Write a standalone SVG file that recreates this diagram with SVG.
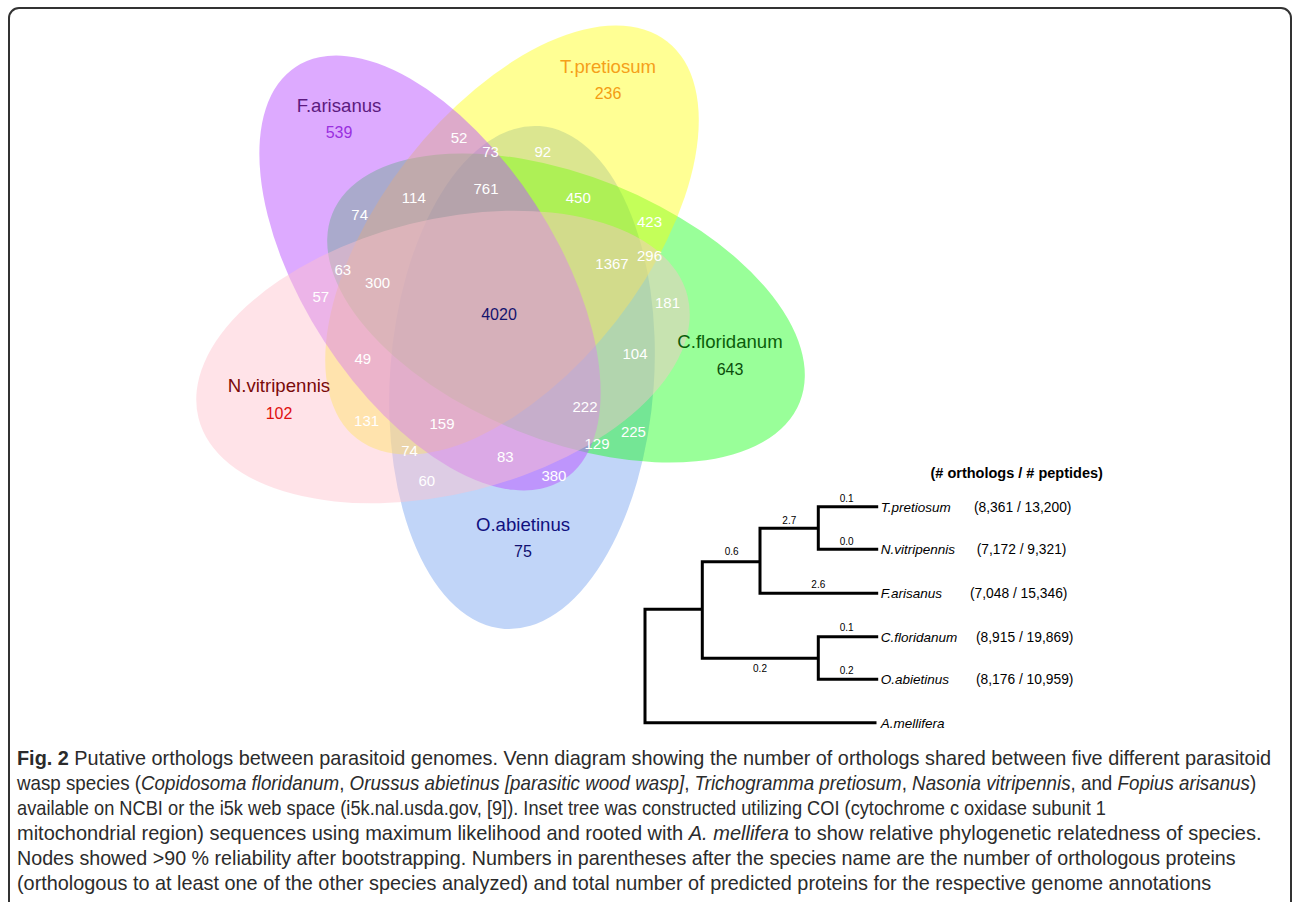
<svg xmlns="http://www.w3.org/2000/svg" width="1292" height="902" viewBox="0 0 1292 902">
<style>
.lbl{font-family:"Liberation Sans",Arial,sans-serif;font-size:18.6px;text-anchor:middle}
.cnt{font-family:"Liberation Sans",Arial,sans-serif;font-size:16px;text-anchor:middle}
.num{font-family:"Liberation Sans",Arial,sans-serif;font-size:15px;fill:#ffffff;text-anchor:middle}
.br{fill:none;stroke:#000;stroke-width:3;stroke-linecap:square;stroke-linejoin:miter}
.bl{font-family:"Liberation Sans",Arial,sans-serif;font-size:10px;text-anchor:middle;fill:#000}
.sp{font-family:"Liberation Sans",Arial,sans-serif;font-size:13.5px;font-style:italic;fill:#000}
.oc{font-family:"Liberation Sans",Arial,sans-serif;font-size:13.8px;fill:#000}
.hd{font-family:"Liberation Sans",Arial,sans-serif;font-size:14.5px;font-weight:bold;text-anchor:middle;fill:#000}
.cap{font-family:"Liberation Sans",Arial,sans-serif;font-size:20.5px;fill:#2b2b2b}
.it{font-style:italic}
.bd{font-weight:bold}
</style>
<path id="frame" d="M9,902 V18 A10,10 0 0 1 19,8 H1281 A10,10 0 0 1 1291,18 V902" fill="none" stroke="#333" stroke-width="2"/>
<g id="venn-sets">
  <ellipse id="set-oabietinus" cx="522" cy="377.5" rx="252" ry="132" transform="rotate(94 522 377.5)" fill="#6495ED" fill-opacity="0.4"/>
  <ellipse id="set-cfloridanum" cx="566" cy="308" rx="252" ry="132" transform="rotate(22 566 308)" fill="#00FF00" fill-opacity="0.4"/>
  <ellipse id="set-tpretiosum" cx="512" cy="240" rx="252" ry="132" transform="rotate(-52 512 240)" fill="#FFFF00" fill-opacity="0.42"/>
  <ellipse id="set-farisanus" cx="430" cy="273" rx="246" ry="126" transform="rotate(57 430 273)" fill="#BB55FF" fill-opacity="0.5"/>
  <ellipse id="set-nvitripennis" cx="443" cy="357" rx="252" ry="137" transform="rotate(-14 443 357)" fill="#FFC0CB" fill-opacity="0.45"/>
</g>
<g id="venn-labels">
  <g id="label-farisanus"><text class="lbl" x="339" y="111.7" fill="#5c1a80">F.arisanus</text><text class="cnt" x="339" y="138.3" fill="#9a30e0">539</text></g>
  <g id="label-tpretiosum"><text class="lbl" x="608" y="72.7" fill="#f5a01a">T.pretiosum</text><text class="cnt" x="608" y="99.3" fill="#f39c12">236</text></g>
  <g id="label-cfloridanum"><text class="lbl" x="730" y="348.4" fill="#0b5e0b">C.floridanum</text><text class="cnt" x="730" y="374.8" fill="#0b4d0b">643</text></g>
  <g id="label-nvitripennis"><text class="lbl" x="279" y="392.2" fill="#7a0a0a">N.vitripennis</text><text class="cnt" x="279" y="418.8" fill="#e01010">102</text></g>
  <g id="label-oabietinus"><text class="lbl" x="523" y="530.7" fill="#101080">O.abietinus</text><text class="cnt" x="523" y="556.8" fill="#101070">75</text></g>
</g>
<g id="venn-counts">
  <text class="cnt" x="499" y="319.8" fill="#14146e">4020</text>
  <text class="num" x="459" y="143">52</text>
  <text class="num" x="490.5" y="157">73</text>
  <text class="num" x="542.8" y="157">92</text>
  <text class="num" x="486" y="194">761</text>
  <text class="num" x="413.8" y="203.4">114</text>
  <text class="num" x="359.7" y="220">74</text>
  <text class="num" x="578.3" y="203.4">450</text>
  <text class="num" x="649.5" y="227">423</text>
  <text class="num" x="612" y="269">1367</text>
  <text class="num" x="649.5" y="261">296</text>
  <text class="num" x="342.8" y="275">63</text>
  <text class="num" x="377.6" y="288.4">300</text>
  <text class="num" x="320.8" y="302">57</text>
  <text class="num" x="667.5" y="308">181</text>
  <text class="num" x="635" y="359.4">104</text>
  <text class="num" x="362.8" y="364">49</text>
  <text class="num" x="585" y="411.8">222</text>
  <text class="num" x="366.6" y="425.8">131</text>
  <text class="num" x="442" y="429">159</text>
  <text class="num" x="633.4" y="437">225</text>
  <text class="num" x="597" y="449">129</text>
  <text class="num" x="409.6" y="456.4">74</text>
  <text class="num" x="505.3" y="462">83</text>
  <text class="num" x="553.9" y="481.3">380</text>
  <text class="num" x="426.8" y="486">60</text>
</g>
<g id="tree">
  <text id="tree-header" class="hd" x="1016.7" y="478">(# orthologs / # peptides)</text>
  <g id="tree-branches">
    <path class="br" d="M645,609.3 V722.7 H875 M645,609.3 H702.3 M702.3,561.7 V658.3 M702.3,561.7 H760 M760,528.3 V593.3 M760,528.3 H818.3 M818.3,506.7 V549.3 M818.3,506.7 H876.7 M818.3,549.3 H876.7 M760,593.3 H876.7 M702.3,658.3 H818.3 M818.3,636.7 V679.3 M818.3,636.7 H876.7 M818.3,679.3 H876.7"/>
    <text class="bl" x="846.7" y="502">0.1</text>
    <text class="bl" x="789.3" y="523.5">2.7</text>
    <text class="bl" x="846.7" y="544.5">0.0</text>
    <text class="bl" x="731.7" y="555">0.6</text>
    <text class="bl" x="818.3" y="588">2.6</text>
    <text class="bl" x="846.7" y="631">0.1</text>
    <text class="bl" x="760" y="672">0.2</text>
    <text class="bl" x="846.7" y="673.5">0.2</text>
  </g>
  <g id="leaf-tpretiosum"><text class="sp" x="880.7" y="511.7">T.pretiosum</text><text class="oc" x="974" y="511.7">(8,361 / 13,200)</text></g>
  <g id="leaf-nvitripennis"><text class="sp" x="880.7" y="554.3">N.vitripennis</text><text class="oc" x="976.7" y="554.3">(7,172 / 9,321)</text></g>
  <g id="leaf-farisanus"><text class="sp" x="880.7" y="598.3">F.arisanus</text><text class="oc" x="970" y="598.3">(7,048 / 15,346)</text></g>
  <g id="leaf-cfloridanum"><text class="sp" x="880.7" y="641.7">C.floridanum</text><text class="oc" x="976" y="641.7">(8,915 / 19,869)</text></g>
  <g id="leaf-oabietinus"><text class="sp" x="880.7" y="684.3">O.abietinus</text><text class="oc" x="976" y="684.3">(8,176 / 10,959)</text></g>
  <g id="leaf-amellifera"><text class="sp" x="880.7" y="727.7">A.mellifera</text></g>
</g>
<g id="caption">
  <text class="cap" transform="translate(17 765) scale(0.9686 1)"><tspan class="bd">Fig. 2</tspan> Putative orthologs between parasitoid genomes. Venn diagram showing the number of orthologs shared between five different parasitoid</text>
  <text class="cap" transform="translate(17 790) scale(0.9154 1)">wasp species (<tspan class="it">Copidosoma floridanum</tspan>, <tspan class="it">Orussus abietinus [parasitic wood wasp]</tspan>, <tspan class="it">Trichogramma pretiosum</tspan>, <tspan class="it">Nasonia vitripennis</tspan>, and <tspan class="it">Fopius arisanus</tspan>)</text>
  <text class="cap" transform="translate(17 815) scale(0.890 1)">available on NCBI or the i5k web space (i5k.nal.usda.gov, [9]). Inset tree was constructed utilizing COI (cytochrome c oxidase subunit 1</text>
  <text class="cap" transform="translate(17 840) scale(0.9766 1)">mitochondrial region) sequences using maximum likelihood and rooted with <tspan class="it">A. mellifera</tspan> to show relative phylogenetic relatedness of species.</text>
  <text class="cap" transform="translate(17 865) scale(0.9608 1)">Nodes showed &gt;90 % reliability after bootstrapping. Numbers in parentheses after the species name are the number of orthologous proteins</text>
  <text class="cap" transform="translate(17 890) scale(0.9693 1)">(orthologous to at least one of the other species analyzed) and total number of predicted proteins for the respective genome annotations</text>
</g>
</svg>
